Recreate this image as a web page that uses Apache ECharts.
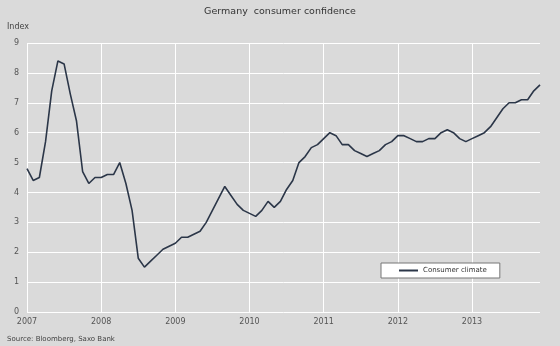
<!DOCTYPE html>
<html>
<head>
<meta charset="utf-8">
<script src="https://cdn.jsdelivr.net/npm/echarts@6/dist/echarts.min.js"></script>
<style>html,body{margin:0;padding:0;background:#dadada;}#c{width:560px;height:346px;}</style>
</head>
<body>
<div id="c"></div>
<script>
var years = [2007, 2008, 2009, 2010, 2011, 2012, 2013];
var yTicks = [0, 1, 2, 3, 4, 5, 6, 7, 8, 9];
var values2007 = [4.8, 4.4, 4.5, 5.7, 7.4, 8.4, 8.3, 7.3, 6.4, 4.7, 4.3, 4.5];
var values2008 = [4.5, 4.6, 4.6, 5.0, 4.3, 3.4, 1.8, 1.5, 1.7, 1.9, 2.1, 2.2];
var values2009 = [2.3, 2.5, 2.5, 2.6, 2.7, 3.0, 3.4, 3.8, 4.2, 3.9, 3.6, 3.4];
var values2010 = [3.3, 3.2, 3.4, 3.7, 3.5, 3.7, 4.1, 4.4, 5.0, 5.2, 5.5, 5.6];
var values2011 = [5.8, 6.0, 5.9, 5.6, 5.6, 5.4, 5.3, 5.2, 5.3, 5.4, 5.6, 5.7];
var values2012 = [5.9, 5.9, 5.8, 5.7, 5.7, 5.8, 5.8, 6.0, 6.1, 6.0, 5.8, 5.7];
var values2013 = [5.8, 5.9, 6.0, 6.2, 6.5, 6.8, 7.0, 7.0, 7.1, 7.1, 7.4, 7.6];
var seriesName = 'Consumer climate';

var yearly = [values2007, values2008, values2009, values2010, values2011, values2012, values2013];
var categories = [];
var values = [];
years.forEach(function (y, i) {
  yearly[i].forEach(function (v, m) {
    categories.push(y + '-' + (m < 9 ? '0' : '') + (m + 1));
    values.push(v);
  });
});

var chart = echarts.init(document.getElementById('c'), null, {renderer: 'canvas'});
var font = 'DejaVu Sans';
chart.setOption({
  backgroundColor: '#dadada',
  animation: false,
  title: {
    text: 'Germany  consumer confidence',
    left: 'center', top: 2,
    textStyle: {fontFamily: font, fontSize: 9.5, fontWeight: 'normal', color: '#333'}
  },
  graphic: [
    {type: 'text', left: 7, top: 23, style: {text: 'Index', fontFamily: font, fontSize: 8, fill: '#444'}},
    {type: 'text', left: 7, top: 336, style: {text: 'Source: Bloomberg, Saxo Bank', fontFamily: font, fontSize: 7, fill: '#444'}}
  ],
  legend: {
    data: [seriesName],
    left: 381, top: 263,
    orient: 'horizontal',
    backgroundColor: '#ffffff',
    borderColor: '#777',
    borderWidth: 1,
    borderRadius: 0,
    padding: [4, 13, 4, 18],
    itemWidth: 19, itemHeight: 2, itemGap: 3,
    icon: 'rect',
    textStyle: {fontFamily: font, fontSize: 7, color: '#333', padding: [0, 0, 0, 0]}
  },
  grid: {left: 27, right: 20, top: 43, bottom: 34, containLabel: false},
  xAxis: {
    type: 'category',
    data: categories,
    boundaryGap: false,
    axisLine: {show: false},
    axisTick: {show: false},
    axisLabel: {
      interval: function (i) { return i % 12 === 0; },
      formatter: function (v) { return v.slice(0, 4); },
      fontFamily: font, fontSize: 8, color: '#555', margin: 6
    },
    splitLine: {
      show: true,
      interval: function (i) { return i % 12 === 0; },
      lineStyle: {color: '#ffffff', width: 1}
    }
  },
  yAxis: {
    type: 'value',
    min: yTicks[0], max: yTicks[yTicks.length - 1], interval: 1,
    axisLine: {show: false},
    axisTick: {show: false},
    axisLabel: {fontFamily: font, fontSize: 8, color: '#555', margin: 8},
    splitLine: {show: true, lineStyle: {color: '#ffffff', width: 1}}
  },
  series: [{
    name: seriesName,
    type: 'line',
    data: values,
    symbol: 'none',
    lineStyle: {color: '#2b3648', width: 1.6},
    itemStyle: {color: '#2b3648'}
  }]
});
</script>
</body>
</html>
